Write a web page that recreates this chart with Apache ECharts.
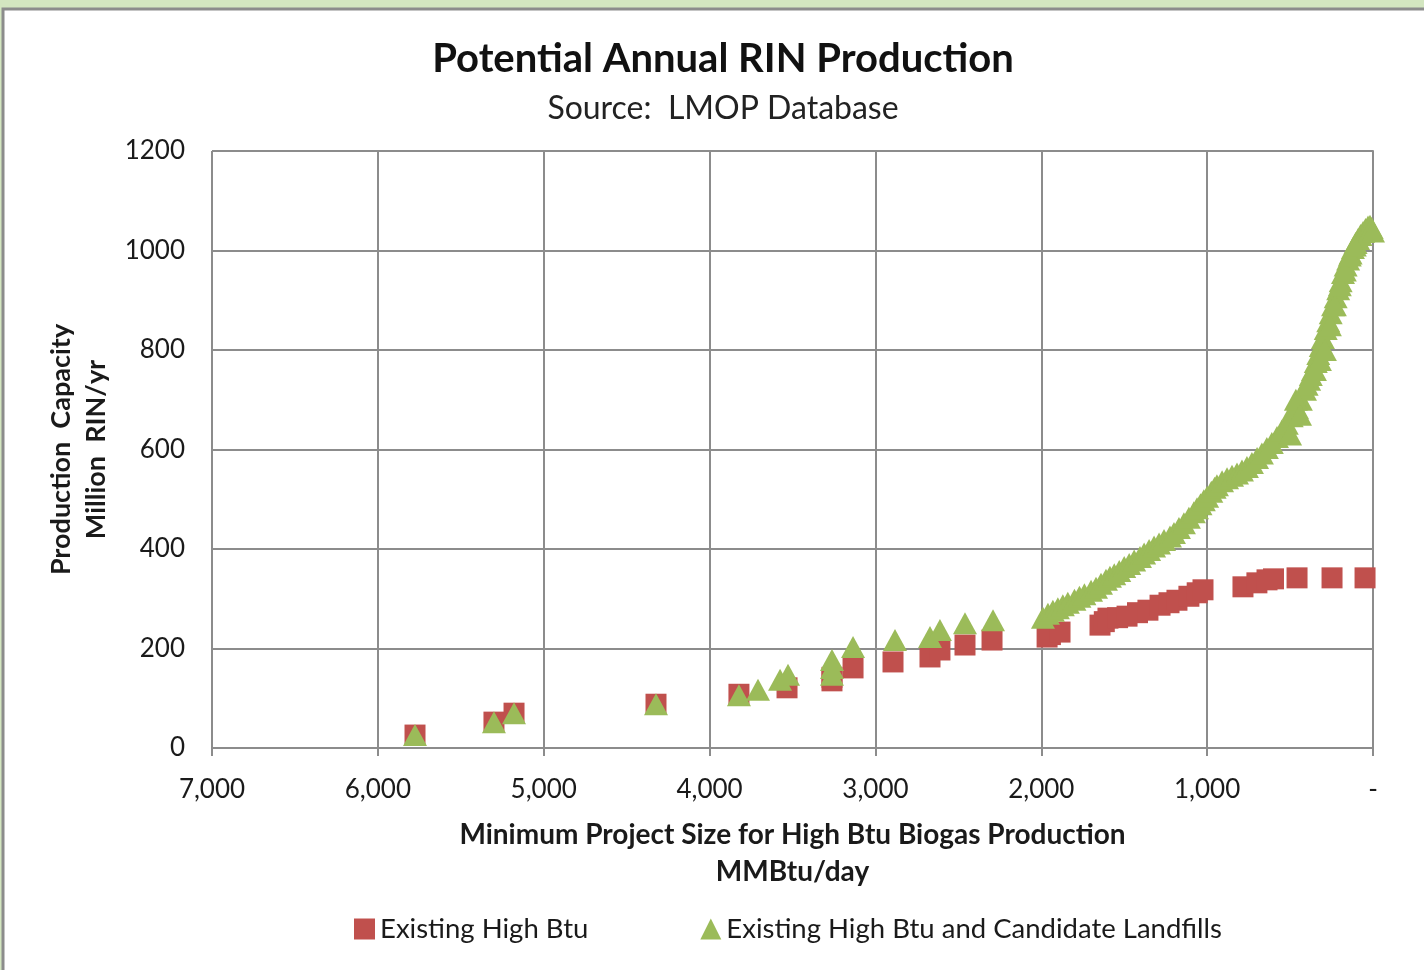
<html>
<head>
<meta charset="utf-8">
<script src="https://cdn.jsdelivr.net/npm/echarts@6/dist/echarts.min.js"></script>
<style>
html, body, #main { width: 100%; height: 100%; margin: 0; }
body { background: #d3e6c0; }
</style>
</head>
<body>
<div id="main"></div>
<script>
// x = minimum project size (MMBtu/day), y = million RIN/yr
var existingX = [5776, 5300, 5179, 4323, 3823, 3533, 3262, 3262, 3135, 2894, 2671, 2611, 2460, 2297,
    1965, 1945, 1887, 1646, 1620, 1598, 1540, 1483, 1420, 1357, 1284, 1230, 1182, 1110, 1060, 1025,
    784, 700, 639, 600, 458, 247, 48];
var existingY = [26, 52, 70, 88, 108, 121, 135, 142, 161, 173, 183, 197, 207, 217,
    223, 228, 233, 247, 254, 261, 262, 265, 272, 277, 287, 292, 297, 305, 312, 318,
    324, 332, 338, 340, 342, 342, 342];

var candX = [5776, 5300, 5179, 4323, 3823, 3708, 3575, 3527, 3262, 3262, 3262, 3135, 2882, 2671, 2611, 2460, 2291,
    1990, 1960, 1930, 1900, 1870, 1840, 1800, 1770, 1740, 1700, 1670, 1640, 1610, 1586, 1560, 1530, 1500, 1470,
    1440, 1405, 1380, 1350, 1320, 1290, 1260, 1224, 1200, 1170, 1140, 1110, 1080, 1061, 1040, 1020, 1000, 975,
    955, 941, 910, 880, 850, 820, 790, 760, 730, 699, 670, 640, 610, 579, 550, 520, 490, 458, 435, 410, 385,
    362, 345, 330, 315, 302, 285, 270, 255, 241, 225, 210, 195, 181, 165, 150, 135, 121, 105, 90, 75, 60, 45,
    30, 18, 8, 0,
    500, 480, 465, 440, 400, 375, 350, 320, 290, 260, 230, 200, 170, 140, 110];
var candY = [26, 52, 70, 88, 106, 117, 137, 147, 147, 161, 177, 203, 217, 223, 237, 251, 257,
    262, 270, 276, 281, 287, 292, 298, 304, 309, 316, 322, 330, 338, 344, 349, 356, 364, 370,
    377, 384, 391, 398, 405, 411, 418, 425, 432, 442, 452, 463, 474, 482, 490, 498, 505, 515,
    523, 528, 536, 542, 547, 552, 558, 565, 573, 583, 592, 603, 613, 625, 638, 652, 667, 683, 700, 720, 740,
    760, 776, 792, 808, 824, 842, 858, 874, 890, 906, 922, 938, 955, 970, 982, 994, 1005, 1015, 1023, 1031, 1037, 1043,
    1048, 1050, 1045, 1038,
    630, 680, 700, 670, 730, 750, 760, 780, 800, 850, 890, 930, 960, 990, 1010];

function pairs(xs, ys) {
    var out = [];
    for (var i = 0; i < xs.length; i++) out.push([xs[i], ys[i]]);
    return out;
}

var font = 'Lato';
var chart = echarts.init(document.getElementById('main'));
var option = {
    backgroundColor: 'transparent',
    textStyle: { fontFamily: font, color: '#1a1a1a' },
    graphic: [{
        type: 'rect', z: -10,
        shape: { x: 3, y: 9, width: 1440, height: 980 },
        style: { fill: '#ffffff', stroke: '#8c8c8c', lineWidth: 3 }
    }],
    title: {
        text: 'Potential Annual RIN Production',
        subtext: 'Source:  LMOP Database',
        left: 718, textAlign: 'center', top: 34, itemGap: 14,
        textStyle: { fontFamily: font, fontSize: 40, fontWeight: 'bold', color: '#111' },
        subtextStyle: { fontFamily: font, fontSize: 32, color: '#222' }
    },
    legend: {
        left: 349, top: 910, itemWidth: 21, itemHeight: 21, itemGap: 112,
        textStyle: { fontFamily: font, fontSize: 27.5, color: '#1a1a1a' },
        data: [
            { name: 'Existing High Btu', icon: 'rect' },
            { name: 'Existing High Btu and Candidate Landfills', icon: 'triangle' }
        ]
    },
    grid: { left: 212, right: 51, top: 151, bottom: 222 },
    xAxis: {
        type: 'value', inverse: true, min: 0, max: 7000, interval: 1000,
        name: 'Minimum Project Size for High Btu Biogas Production\nMMBtu/day',
        nameLocation: 'middle', nameGap: 68,
        nameTextStyle: { fontFamily: font, fontSize: 28, fontWeight: 'bold', lineHeight: 37, color: '#1a1a1a' },
        axisLine: { lineStyle: { color: '#8c8c8c', width: 2 } },
        axisTick: { show: true, length: 8, lineStyle: { color: '#8c8c8c', width: 2 } },
        splitLine: { show: true, lineStyle: { color: '#8c8c8c', width: 2 } },
        axisLabel: {
            fontSize: 26, margin: 29, color: '#1a1a1a',
            formatter: function (v) { return v === 0 ? '-' : v.toLocaleString('en-US'); }
        }
    },
    yAxis: {
        type: 'value', min: 0, max: 1200, interval: 200,
        name: 'Production  Capacity\nMillion  RIN/yr',
        nameLocation: 'middle', nameRotate: 90, nameGap: 97,
        nameTextStyle: { fontFamily: font, fontSize: 27, fontWeight: 'bold', lineHeight: 35, color: '#1a1a1a' },
        axisLine: { show: true, lineStyle: { color: '#8c8c8c', width: 2 } },
        axisTick: { show: false },
        splitLine: { show: true, lineStyle: { color: '#8c8c8c', width: 2 } },
        axisLabel: { fontSize: 26, margin: 27, color: '#1a1a1a', formatter: function (v) { return String(v); } }
    },
    series: [{
        name: 'Existing High Btu',
        type: 'scatter', symbol: 'rect', symbolSize: 21,
        itemStyle: { color: '#c0504d', opacity: 1 },
        data: pairs(existingX, existingY)
    }, {
        name: 'Existing High Btu and Candidate Landfills',
        type: 'scatter', symbol: 'triangle', symbolSize: [24, 22],
        itemStyle: { color: '#9bbb59', opacity: 1 },
        data: pairs(candX, candY)
    }]
};
chart.setOption(option);
window.onresize = chart.resize;
</script>
</body>
</html>
